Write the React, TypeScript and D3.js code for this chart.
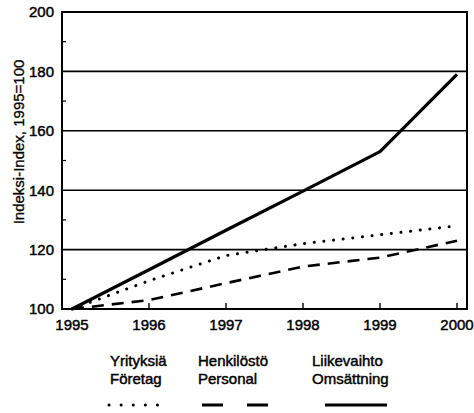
import React from "react";
import * as d3 from "d3";

const years = [1995, 1996, 1997, 1998, 1999, 2000];
const yrityksia = [100, 109.5, 118, 122, 125, 128];
const henkilosto = [100, 103, 108.7, 114.3, 117.3, 123];
const liikevaihto = [100, 113.2, 126.5, 139.7, 153, 179];
const yTicks = [100, 120, 140, 160, 180, 200];
const yMinor = [110, 130, 150, 170, 190];
const gridValues = [120, 140, 160, 180];
const yLabel = "Indeksi-Index, 1995=100";
const legendLine1 = ["Yrityksiä", "Henkilöstö", "Liikevaihto"];
const legendLine2 = ["Företag", "Personal", "Omsättning"];

const W = 474;
const H = 413;
const frame = { left: 62, right: 467, top: 12, bottom: 309 };
const FONT = "'Liberation Sans', Arial, Helvetica, sans-serif";

export default function App() {
  const x = d3.scaleLinear().domain([1995, 2000]).range([72, 457]);
  const y = d3.scaleLinear().domain([100, 200]).range([frame.bottom, frame.top]);
  const line = d3
    .line<number>()
    .x((_, i) => x(years[i]))
    .y((d) => y(d));

  const series = [
    { name: "y", data: yrityksia, dash: "0.1,9.6", width: 3, cap: "round" as const },
    { name: "h", data: henkilosto, dash: "12,8", width: 2.6, cap: "butt" as const },
    { name: "l", data: liikevaihto, dash: undefined, width: 3.2, cap: "butt" as const },
  ];

  const legendX = [110, 198, 312];
  const textProps = { stroke: "#000", strokeWidth: 0.45, fill: "#000" };

  return (
    <svg
      width={W}
      height={H}
      style={{ position: "absolute", left: 0, top: 0, background: "#fff" }}
      fontFamily={FONT}
    >
      <rect x={0} y={0} width={W} height={H} fill="#fff" />
      {gridValues.map((v) => (
        <line key={v} x1={frame.left} x2={frame.right} y1={y(v)} y2={y(v)} stroke="#000" strokeWidth={1.6} />
      ))}
      {yMinor.map((v) => (
        <line key={v} x1={frame.left} x2={frame.left + 4} y1={y(v)} y2={y(v)} stroke="#000" strokeWidth={1.2} />
      ))}
      {years.slice(1).map((yr) => (
        <line key={yr} x1={x(yr)} x2={x(yr)} y1={frame.bottom} y2={frame.bottom - 6} stroke="#000" strokeWidth={1.4} />
      ))}
      {series.map((s) => (
        <path
          key={s.name}
          d={line(s.data) || ""}
          fill="none"
          stroke="#000"
          strokeWidth={s.width}
          strokeDasharray={s.dash}
          strokeLinecap={s.cap}
          strokeLinejoin="round"
        />
      ))}
      <rect
        x={frame.left}
        y={frame.top}
        width={frame.right - frame.left}
        height={frame.bottom - frame.top}
        fill="none"
        stroke="#000"
        strokeWidth={2}
      />
      {yTicks.map((v) => (
        <text key={v} x={frame.left - 8} y={y(v)} dy="0.36em" textAnchor="end" fontSize={15} {...textProps}>
          {v}
        </text>
      ))}
      {years.map((yr) => (
        <text key={yr} x={x(yr)} y={frame.bottom + 21} textAnchor="middle" fontSize={15} {...textProps}>
          {yr}
        </text>
      ))}
      <text
        transform={`translate(24,142) rotate(-90)`}
        textAnchor="middle"
        fontSize={15}
        {...textProps}
        strokeWidth={0.3}
      >
        {yLabel}
      </text>
      {legendLine1.map((t, i) => (
        <text key={t} x={legendX[i]} y={366} fontSize={15} {...textProps}>
          {t}
        </text>
      ))}
      {legendLine2.map((t, i) => (
        <text key={t} x={legendX[i]} y={384} fontSize={15} {...textProps}>
          {t}
        </text>
      ))}
      <line x1={109} x2={158} y1={405} y2={405} stroke="#000" strokeWidth={3} strokeDasharray="0.1,12" strokeLinecap="round" />
      <line x1={202} x2={268} y1={405} y2={405} stroke="#000" strokeWidth={3} strokeDasharray="21,24" />
      <line x1={325} x2={387} y1={405} y2={405} stroke="#000" strokeWidth={3} />
    </svg>
  );
}
